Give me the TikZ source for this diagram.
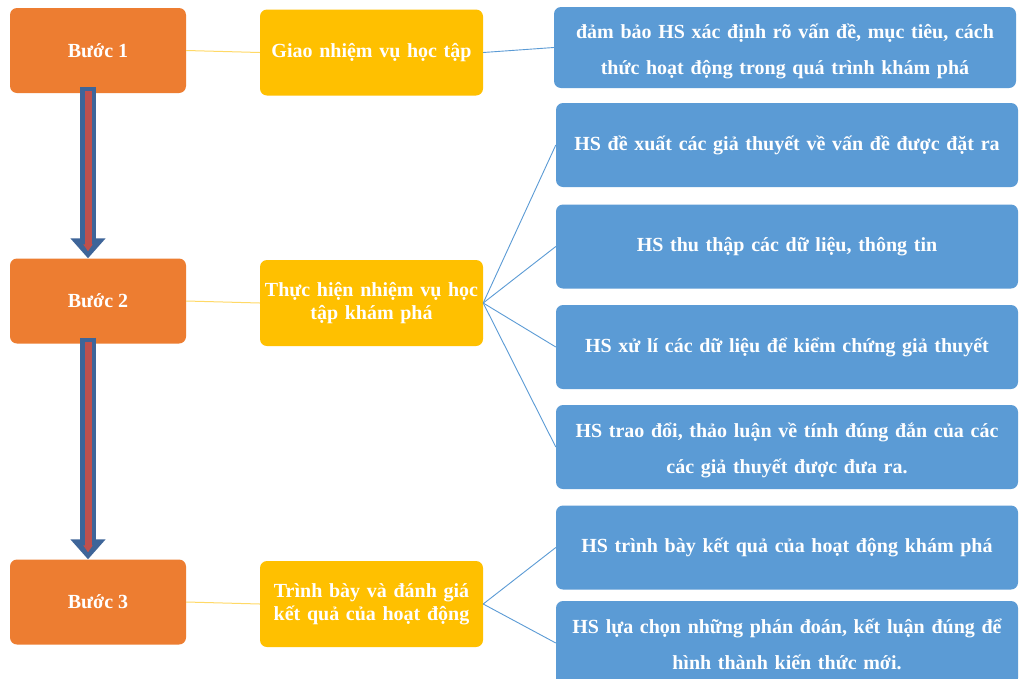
\documentclass[tikz,border=0pt]{standalone}
\usepackage{fontspec}
\setmainfont{Liberation Serif}
\usetikzlibrary{arrows.meta}
\definecolor{stepor}{HTML}{ED7D31}
\definecolor{taskyel}{HTML}{FFC000}
\definecolor{actblue}{HTML}{5B9BD5}
\definecolor{linkyel}{HTML}{FFD966}
\definecolor{linkblue}{HTML}{5B9BD5}
\definecolor{arrblue}{HTML}{3E6599}
\definecolor{arrred}{HTML}{C0504D}
\begin{document}
\begin{tikzpicture}[x=1pt,y=-1pt,
  box/.style={rounded corners=7pt,inner sep=4pt,align=center,text=white,
    font=\bfseries\fontsize{20}{23}\selectfont},
  stepbox/.style={box,fill=stepor,minimum width=176pt,minimum height=85pt},
  taskbox/.style={box,fill=taskyel,text width=215pt,minimum height=86pt},
  actbox/.style={box,fill=actblue,text width=454pt,minimum height=84pt,
    font=\bfseries\fontsize{20}{36}\selectfont},
  twoline/.style={text height=24pt,text depth=43pt},
  toyel/.style={linkyel,line width=1pt},
  toblue/.style={linkblue,line width=0.9pt},
  bigarrow/.style={arrblue,line width=16pt,-{Triangle[width=34pt,length=20pt]}},
  innerarrow/.style={arrred,line width=7pt,-{Triangle[width=9pt,length=7pt]}}]
\clip (0,0) rectangle (1021,678);
\fill[white] (0,0) rectangle (1021,678);
% steps
\node[stepbox] (b1) at (98,50.5) {Bước 1};
\node[stepbox] (b2) at (98,301) {Bước 2};
\node[stepbox] (b3) at (98,602) {Bước 3};
% tasks
\node[taskbox] (t1) at (371.5,52.5) {Giao nhiệm vụ học tập};
\node[taskbox] (t2) at (371.5,303) {Thực hiện nhiệm vụ học\\tập khám phá};
\node[taskbox] (t3) at (371.5,604) {Trình bày và đánh giá\\kết quả của hoạt động};
% activities
\node[actbox,twoline,minimum height=81pt] (a0) at (785,47.5) {đảm bảo HS xác định rõ vấn đề, mục tiêu, cách\\thức hoạt động trong quá trình khám phá};
\node[actbox] (a1) at (787,145) {HS đề xuất các giả thuyết về vấn đề được đặt ra};
\node[actbox] (a2) at (787,246.5) {HS thu thập các dữ liệu, thông tin};
\node[actbox] (a3) at (787,347) {HS xử lí các dữ liệu để kiểm chứng giả thuyết};
\node[actbox,twoline] (a4) at (787,447) {HS trao đổi, thảo luận về tính đúng đắn của các\\các giả thuyết được đưa ra.};
\node[actbox] (a5) at (787,547.5) {HS trình bày kết quả của hoạt động khám phá};
\node[actbox,twoline] (a6) at (787,643) {HS lựa chọn những phán đoán, kết luận đúng để\\hình thành kiến thức mới.};
% links
\foreach \i in {1,2,3} \draw[toyel] (b\i.east) -- (t\i.west);
\draw[toblue] (t1.east) -- (a0.west);
\foreach \j in {1,...,4} \draw[toblue] (t2.east) -- (a\j.west);
\foreach \j in {5,6} \draw[toblue] (t3.east) -- (a\j.west);
% arrows between steps
\foreach \i/\k in {1/2,2/3}{
  \draw[bigarrow] ([xshift=-10pt,yshift=6pt]b\i.south) -- ([xshift=-10pt]b\k.north);
  \draw[innerarrow] ([xshift=-10pt,yshift=2pt]b\i.south) -- ([xshift=-10pt,yshift=7pt]b\k.north);
}
\end{tikzpicture}
\end{document}
